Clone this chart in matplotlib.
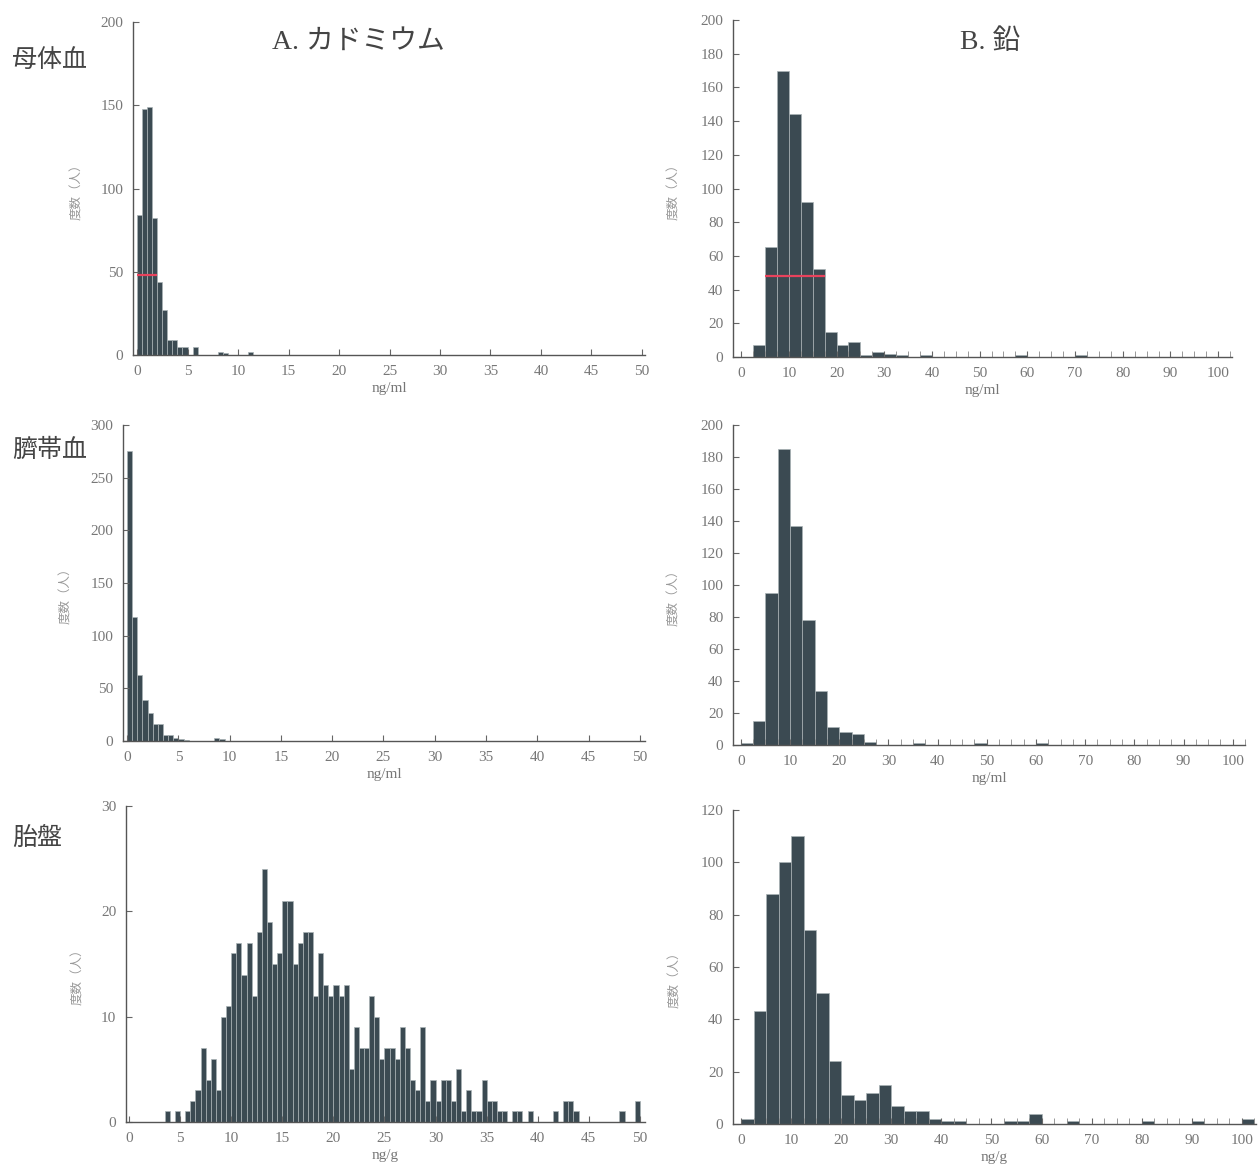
import numpy as np
import matplotlib
matplotlib.use("Agg")
import matplotlib.pyplot as plt

plt.rcParams['font.family'] = ['Liberation Serif', 'Noto Sans CJK JP']

# bin widths
cd_width = 0.5
pb_width = 2.5

# A. cadmium, maternal blood (ng/ml), bins of 0.5 from 0
cd_maternal = [84, 148, 149, 82, 44, 27, 9, 9, 5, 5, 0, 5, 0, 0, 0, 0,
               2, 1, 0, 0, 0, 0, 2]
# A. cadmium, cord blood (ng/ml)
cd_cord = [275, 118, 63, 39, 27, 16, 16, 6, 6, 3, 2, 1, 0, 0, 0, 0, 0, 3, 2]
# A. cadmium, placenta (ng/g)
cd_placenta = [0, 0, 0, 0, 0, 0, 0, 1, 0, 1,
               0, 1, 2, 3, 7, 4, 6, 3, 10, 11,
               16, 17, 14, 17, 12, 18, 24, 19, 15, 16,
               21, 21, 15, 17, 18, 18, 12, 16, 13, 12,
               13, 12, 13, 5, 9, 7, 7, 12, 10, 6,
               7, 7, 6, 9, 7, 4, 3, 9, 2, 4,
               2, 4, 4, 2, 5, 1, 3, 1, 1, 4,
               2, 2, 1, 1, 0, 1, 1, 0, 1, 0,
               0, 0, 0, 1, 0, 2, 2, 1, 0, 0,
               0, 0, 0, 0, 0, 0, 1, 0, 0, 2]

# B. lead, bins of 2.5 from 0
pb_maternal = [0, 7, 65, 170, 144, 92, 52, 15, 7, 9, 1, 3, 2, 1, 0, 1,
               0, 0, 0, 0, 0, 0, 0, 1, 0, 0, 0, 0, 1]
pb_cord = [1, 15, 95, 185, 137, 78, 34, 11, 8, 7, 2, 0, 0, 0, 1, 0,
           0, 0, 0, 1, 0, 0, 0, 0, 1]
pb_placenta = [2, 43, 88, 100, 110, 74, 50, 24, 11, 9, 12, 15, 7, 5, 5, 2,
               1, 1, 0, 0, 0, 1, 1, 4, 0, 0, 1, 0, 0, 0, 0, 0, 1, 0, 0, 0,
               1, 0, 0, 0, 2]

# red marker lines (start, end, level)
red_cd = (0, 2.0, 48)
red_pb = (5, 17.5, 48)

row_labels = ['母体血', '臍帯血', '胎盤']
units = ['ng/ml', 'ng/ml', 'ng/g']

W, H = 1258, 1164
fig = plt.figure(figsize=(W / 100, H / 100), dpi=100)

bar_color = '#3b4a52'
edge_color = '#aab3b6'
grey = '#777777'


def px_axes(left, right, top, bottom):
    return fig.add_axes([left / W, 1 - bottom / H, (right - left) / W, (bottom - top) / H])


def style(ax, xlim, ylim, yticks, xticks, unit, minor=None):
    ax.set_xlim(*xlim)
    ax.set_ylim(*ylim)
    ax.set_yticks(yticks)
    ax.set_xticks(xticks)
    if minor is not None:
        ax.set_xticks(minor, minor=True)
    for s in ['top', 'right']:
        ax.spines[s].set_visible(False)
    for s in ['left', 'bottom']:
        ax.spines[s].set_color('#555555')
        ax.spines[s].set_linewidth(1.0)
    ax.tick_params(direction='in', length=4, width=0.8, colors='#666666',
                   labelcolor=grey, labelsize=11, pad=7)
    ax.tick_params(which='minor', direction='in', length=4, width=0.6, colors='#888888')
    ax.set_xlabel(unit, fontsize=11, color=grey, labelpad=3)
    ax.set_ylabel('度数（人）', fontsize=9, color='#999999')


def draw(ax, counts, width):
    edges = np.arange(len(counts)) * width
    ax.bar(edges, counts, width=width, align='edge', color=bar_color,
           edgecolor=edge_color, linewidth=0.5)


# column A
axA1 = px_axes(133, 645, 22, 355)
draw(axA1, cd_maternal, cd_width)
axA1.hlines(red_cd[2], red_cd[0], red_cd[1], color='#e8425c', linewidth=1.6, zorder=3)
style(axA1, (-0.4, 50.3), (0, 200), range(0, 201, 50), range(0, 51, 5), units[0])
axA1.yaxis.set_label_coords(-0.098, 0.5)

axA2 = px_axes(123, 645, 425, 741)
draw(axA2, cd_cord, cd_width)
style(axA2, (-0.4, 50.5), (0, 300), range(0, 301, 50), range(0, 51, 5), units[1])
axA2.yaxis.set_label_coords(-0.098, 0.47)

axA3 = px_axes(126, 645, 806, 1122)
draw(axA3, cd_placenta, cd_width)
style(axA3, (-0.3, 50.5), (0, 30), range(0, 31, 10), range(0, 51, 5), units[2])
axA3.yaxis.set_label_coords(-0.08, 0.47)

# column B
axB1 = px_axes(733, 1232, 20, 357)
draw(axB1, pb_maternal, pb_width)
axB1.hlines(red_pb[2], red_pb[0], red_pb[1], color='#e8425c', linewidth=1.6, zorder=3)
style(axB1, (-1.7, 102.9), (0, 200), range(0, 201, 20), range(0, 101, 10), units[0],
      minor=np.arange(0, 102.6, 2.5))
axB1.yaxis.set_label_coords(-0.105, 0.5)

axB2 = px_axes(733, 1245, 425, 745)
draw(axB2, pb_cord, pb_width)
style(axB2, (-1.6, 102.4), (0, 200), range(0, 201, 20), range(0, 101, 10), units[1],
      minor=np.arange(0, 102.6, 2.5))
axB2.yaxis.set_label_coords(-0.103, 0.47)

axB3 = px_axes(733, 1256, 810, 1124)
draw(axB3, pb_placenta, pb_width)
style(axB3, (-1.6, 102.8), (0, 120), range(0, 121, 20), range(0, 101, 10), units[2],
      minor=np.arange(0, 102.6, 2.5))
axB3.yaxis.set_label_coords(-0.1, 0.47)

# column titles
fig.text(358 / W, 1 - 42 / H, 'A. カドミウム', fontsize=20, color='#444444',
         ha='center', va='center')
fig.text(990 / W, 1 - 42 / H, 'B. 鉛', fontsize=20, color='#444444',
         ha='center', va='center')

# row labels
for label, y in zip(row_labels, [60, 450, 838]):
    fig.text(12 / W, 1 - y / H, label, fontsize=18, color='#444444',
             ha='left', va='center', family=['Noto Sans CJK JP'])

fig.savefig('out.png', dpi=100, facecolor='white')
